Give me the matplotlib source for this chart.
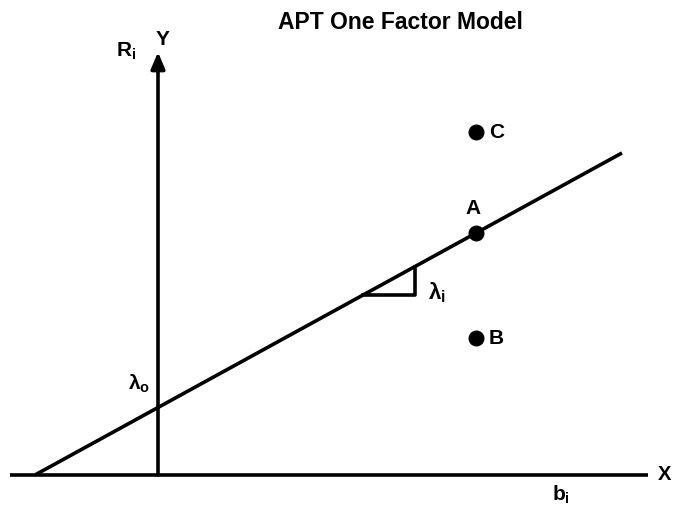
#!/usr/bin/env python3
import numpy as np
import matplotlib
matplotlib.use("Agg")
import matplotlib.pyplot as plt

plt.rcParams['font.family'] = ['Liberation Sans', 'DejaVu Sans']
plt.rcParams['mathtext.fontset'] = 'custom'
plt.rcParams['mathtext.rm'] = 'Liberation Sans:bold'
plt.rcParams['mathtext.it'] = 'Liberation Sans:bold'
plt.rcParams['mathtext.bf'] = 'Liberation Sans:bold'

# APT line: expected return = lambda0 + lambda1 * b
lambda0 = 67.5
lambda1 = 0.5486
line_b = [-123, 464]

# assets: factor loading and expected return
assets = ['A', 'B', 'C']
asset_b = [318, 318, 318]
asset_r = [242, 137, 343]

# slope triangle on the line
tri_b = [205, 257]

x_axis = [-148, 490]
y_axis_top = 423

fig = plt.figure(figsize=(6.75, 5.09), dpi=100)
ax = fig.add_axes([0, 0, 1, 1])
ax.set_xlim(-158, 517)
ax.set_ylim(-34, 475)
ax.axis('off')

lw = 2.6
# axes
ax.plot(x_axis, [0, 0], color='black', lw=lw, solid_capstyle='butt')
ax.annotate('', xy=(0, y_axis_top), xytext=(0, 0),
            arrowprops=dict(arrowstyle='-|>,head_length=1.0,head_width=0.42',
                            color='black', lw=lw, shrinkA=0, shrinkB=0))

# APT line
lb = np.array(line_b)
ax.plot(lb, lambda0 + lambda1 * lb, color='black', lw=lw, solid_capstyle='butt')

# slope triangle
r0 = lambda0 + lambda1 * tri_b[0]
r1 = lambda0 + lambda1 * tri_b[1]
ax.plot([tri_b[0], tri_b[1], tri_b[1]], [r0, r0, r1], color='black', lw=lw)

# asset points
for name, b, r in zip(assets, asset_b, asset_r):
    ax.plot(b, r, 'o', color='black', ms=10.5)
    if name == 'A':
        ax.text(b - 3, r + 25, name, fontsize=15, fontweight='bold',
                ha='center', va='center')
    else:
        ax.text(b + 13, r, name, fontsize=15, fontweight='bold',
                ha='left', va='center')

# labels
ax.text(242, 453, 'APT One Factor Model', fontsize=16.5, fontweight='bold',
        ha='center', va='center')
ax.text(5, 436, 'Y', fontsize=15, fontweight='bold', ha='center', va='center')
ax.text(-22, 424, r'$R_i$', fontsize=15, ha='right', va='center')
ax.text(500, 1, 'X', fontsize=14.5, fontweight='bold', ha='left', va='center')
ax.text(403, -20, r'$b_i$', fontsize=15, ha='center', va='center')
ax.text(-8, 91, r'$\lambda_o$', fontsize=15, ha='right', va='center')
ax.text(270, 182, r'$\lambda_i$', fontsize=16, ha='left', va='center')

fig.savefig('out.png', dpi=100)
